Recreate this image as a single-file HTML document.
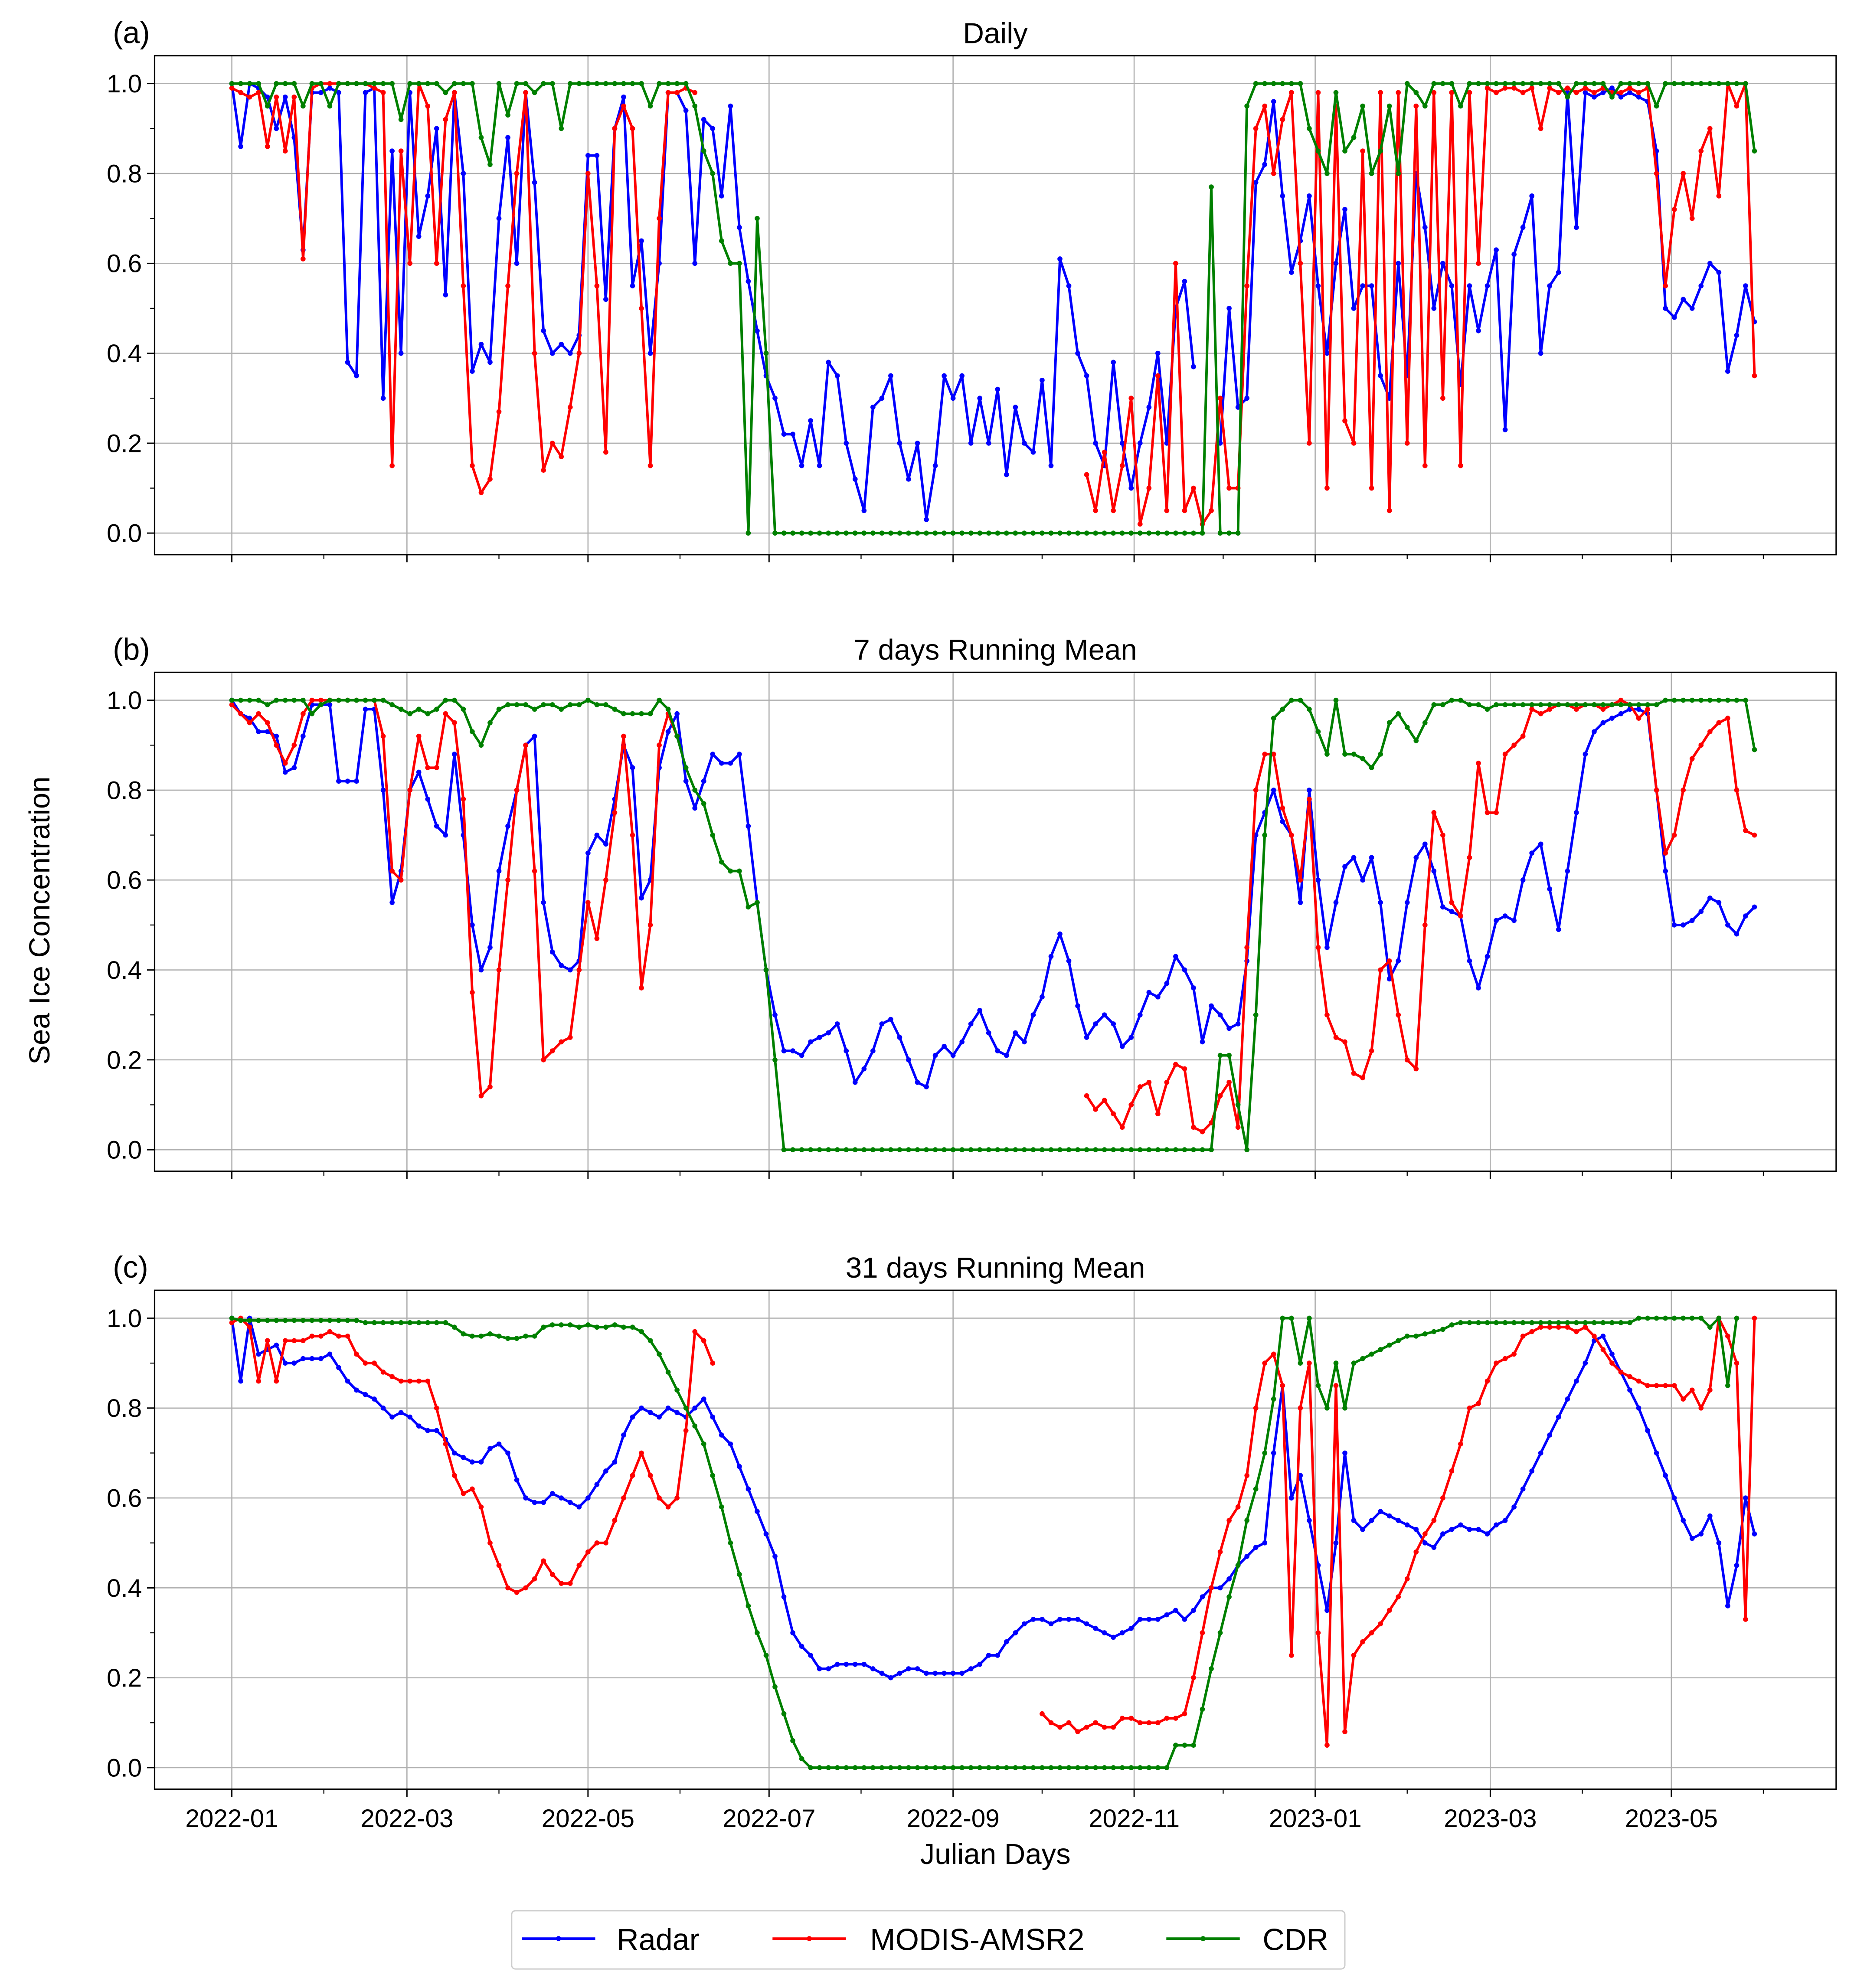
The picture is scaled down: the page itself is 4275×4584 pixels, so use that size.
<!DOCTYPE html>
<html><head><meta charset="utf-8"><style>
html,body{margin:0;padding:0;background:#fff}
svg{display:block}
text{font-family:"Liberation Sans","DejaVu Sans",sans-serif;fill:#000}
</style></head><body>
<svg id="chart" width="4275" height="4584" viewBox="0 0 1464 1570" xmlns="http://www.w3.org/2000/svg">
<rect width="1464" height="1570" fill="#fff"/>
<g id="panels"></g>
<text x="786" y="1472" font-size="23" text-anchor="middle">Julian Days</text>
<text x="0" y="0" font-size="23" text-anchor="middle" transform="translate(39,727) rotate(-90)">Sea Ice Concentration</text>
<g>
<rect x="404" y="1509" width="658" height="46" rx="3" fill="#fff" stroke="#ccc" stroke-width="1"/>
<g><line x1="412" y1="1531" x2="470" y2="1531" stroke="#0000ff" stroke-width="2"/><circle cx="441" cy="1531" r="2" fill="#0000ff"/><text x="487" y="1540" font-size="24">Radar</text></g>
<g><line x1="610" y1="1531" x2="668" y2="1531" stroke="#ff0000" stroke-width="2"/><circle cx="639" cy="1531" r="2" fill="#ff0000"/><text x="687" y="1540" font-size="24">MODIS-AMSR2</text></g>
<g><line x1="921" y1="1531" x2="979" y2="1531" stroke="#008000" stroke-width="2"/><circle cx="950" cy="1531" r="2" fill="#008000"/><text x="997" y="1540" font-size="24">CDR</text></g>
</g>
</svg>
<script>
const N=null;
const dayStep = 3;
const maxPoints = 172;
const xTickLabels = ["2022-01","2022-03","2022-05","2022-07","2022-09","2022-11","2023-01","2023-03","2023-05"];
const xTickDays = [0,59,120,181,243,304,365,424,485];
const yTickLabels = ["0.0","0.2","0.4","0.6","0.8","1.0"];
const panelLabels = ["(a)","(b)","(c)"];
const panelTitles = ["Daily","7 days Running Mean","31 days Running Mean"];

const radarA = [1.0,0.86,1.0,0.99,0.97,0.90,0.97,0.88,0.63,0.98,0.98,0.99,0.98,0.38,0.35,0.98,0.99,0.30,0.85,0.40,0.98,0.66,0.75,0.90,0.53,0.98,0.80,0.36,0.42,0.38,0.70,0.88,0.60,0.98,0.78,0.45,0.40,0.42,0.40,0.44,0.84,0.84,0.52,0.90,0.97,0.55,0.65,0.40,0.60,0.98,0.98,0.94,0.60,0.92,0.90,0.75,0.95,0.68,0.56,0.45,0.35,0.30,0.22,0.22,0.15,0.25,0.15,0.38,0.35,0.20,0.12,0.05,0.28,0.30,0.35,0.20,0.12,0.20,0.03,0.15,0.35,0.30,0.35,0.20,0.30,0.20,0.32,0.13,0.28,0.20,0.18,0.34,0.15,0.61,0.55,0.40,0.35,0.20,0.15,0.38,0.20,0.10,0.20,0.28,0.40,0.20,0.50,0.56,0.37,N,N,0.20,0.50,0.28,0.30,0.78,0.82,0.96,0.75,0.58,0.65,0.75,0.55,0.40,0.60,0.72,0.50,0.55,0.55,0.35,0.30,0.60,0.35,0.80,0.68,0.50,0.60,0.55,0.33,0.55,0.45,0.55,0.63,0.23,0.62,0.68,0.75,0.40,0.55,0.58,0.98,0.68,0.98,0.97,0.98,0.99,0.97,0.98,0.97,0.96,0.85,0.50,0.48,0.52,0.50,0.55,0.60,0.58,0.36,0.44,0.55,0.47,0.48];
const modisA = [0.99,0.98,0.97,0.98,0.86,0.97,0.85,0.97,0.61,0.99,1.0,1.0,1.0,1.0,1.0,1.0,0.99,0.98,0.15,0.85,0.60,1.0,0.95,0.60,0.92,0.98,0.55,0.15,0.09,0.12,0.27,0.55,0.80,0.98,0.40,0.14,0.20,0.17,0.28,0.40,0.80,0.55,0.18,0.90,0.95,0.90,0.50,0.15,0.70,0.98,0.98,0.99,0.98,N,N,N,N,N,N,N,N,N,N,N,N,N,N,N,N,N,N,N,N,N,N,N,N,N,N,N,N,N,N,N,N,N,N,N,N,N,N,N,N,N,N,N,0.13,0.05,0.18,0.05,0.15,0.30,0.02,0.10,0.35,0.05,0.60,0.05,0.10,0.02,0.05,0.30,0.10,0.10,0.55,0.90,0.95,0.80,0.92,0.98,0.60,0.20,0.98,0.10,0.95,0.25,0.20,0.85,0.10,0.98,0.05,0.98,0.20,0.95,0.15,0.98,0.30,0.98,0.15,0.98,0.60,0.99,0.98,0.99,0.99,0.98,0.99,0.90,0.99,0.98,0.99,0.98,0.99,0.98,0.99,0.98,0.98,0.99,0.98,0.99,0.80,0.55,0.72,0.80,0.70,0.85,0.90,0.75,1.0,0.95,1.0,0.35,0.70];
const cdrA = [1,1,1,1,0.95,1,1,1,0.95,1,1,0.95,1,1,1,1,1,1,1,0.92,1,1,1,1,0.98,1,1,1,0.88,0.82,1,0.93,1,1,0.98,1,1,0.90,1,1,1,1,1,1,1,1,1,0.95,1,1,1,1,0.95,0.85,0.80,0.65,0.60,0.60,0.0,0.70,0.40,0,0,0,0,0,0,0,0,0,0,0,0,0,0,0,0,0,0,0,0,0,0,0,0,0,0,0,0,0,0,0,0,0,0,0,0,0,0,0,0,0,0,0,0,0,0,0,0,0,0.77,0,0,0,0.95,1,1,1,1,1,1,0.90,0.85,0.80,0.98,0.85,0.88,0.95,0.80,0.85,0.95,0.80,1,0.98,0.95,1,1,1,0.95,1,1,1,1,1,1,1,1,1,1,1,0.97,1,1,1,1,0.97,1,1,1,1,0.95,1,1,1,1,1,1,1,1,1,1,0.85,1];

const radarB = [1.0,0.97,0.96,0.93,0.93,0.92,0.84,0.85,0.92,0.99,0.99,0.99,0.82,0.82,0.82,0.98,0.98,0.80,0.55,0.62,0.80,0.84,0.78,0.72,0.70,0.88,0.70,0.50,0.40,0.45,0.62,0.72,0.80,0.90,0.92,0.55,0.44,0.41,0.40,0.42,0.66,0.70,0.68,0.78,0.90,0.85,0.56,0.60,0.85,0.93,0.97,0.82,0.76,0.82,0.88,0.86,0.86,0.88,0.72,0.55,0.40,0.30,0.22,0.22,0.21,0.24,0.25,0.26,0.28,0.22,0.15,0.18,0.22,0.28,0.29,0.25,0.20,0.15,0.14,0.21,0.23,0.21,0.24,0.28,0.31,0.26,0.22,0.21,0.26,0.24,0.30,0.34,0.43,0.48,0.42,0.32,0.25,0.28,0.30,0.28,0.23,0.25,0.30,0.35,0.34,0.37,0.43,0.40,0.36,0.24,0.32,0.30,0.27,0.28,0.42,0.70,0.75,0.80,0.73,0.70,0.55,0.80,0.60,0.45,0.55,0.63,0.65,0.60,0.65,0.55,0.38,0.42,0.55,0.65,0.68,0.62,0.54,0.53,0.52,0.42,0.36,0.43,0.51,0.52,0.51,0.60,0.66,0.68,0.58,0.49,0.62,0.75,0.88,0.93,0.95,0.96,0.97,0.98,0.98,0.97,0.80,0.62,0.50,0.50,0.51,0.53,0.56,0.55,0.50,0.48,0.52,0.54,0.48];
const modisB = [0.99,0.97,0.95,0.97,0.95,0.90,0.86,0.90,0.97,1.0,1.0,1.0,1.0,1.0,1.0,1.0,1.0,0.92,0.62,0.60,0.80,0.92,0.85,0.85,0.97,0.95,0.78,0.35,0.12,0.14,0.40,0.60,0.80,0.90,0.62,0.20,0.22,0.24,0.25,0.40,0.55,0.47,0.60,0.75,0.92,0.70,0.36,0.50,0.90,0.97,0.92,N,N,N,N,N,N,N,N,N,N,N,N,N,N,N,N,N,N,N,N,N,N,N,N,N,N,N,N,N,N,N,N,N,N,N,N,N,N,N,N,N,N,N,N,N,0.12,0.09,0.11,0.08,0.05,0.10,0.14,0.15,0.08,0.15,0.19,0.18,0.05,0.04,0.06,0.12,0.15,0.05,0.45,0.80,0.88,0.88,0.76,0.70,0.60,0.78,0.45,0.30,0.25,0.24,0.17,0.16,0.22,0.40,0.42,0.30,0.20,0.18,0.50,0.75,0.70,0.55,0.52,0.65,0.86,0.75,0.75,0.88,0.90,0.92,0.98,0.97,0.98,0.99,0.99,0.98,0.99,0.99,0.98,0.99,1.0,0.99,0.96,0.98,0.80,0.66,0.70,0.80,0.87,0.90,0.93,0.95,0.96,0.80,0.71,0.70];
const cdrB = [1,1,1,1,0.99,1,1,1,1,0.97,0.99,1,1,1,1,1,1,1,0.99,0.98,0.97,0.98,0.97,0.98,1,1,0.98,0.93,0.90,0.95,0.98,0.99,0.99,0.99,0.98,0.99,0.99,0.98,0.99,0.99,1,0.99,0.99,0.98,0.97,0.97,0.97,0.97,1,0.98,0.92,0.85,0.80,0.77,0.70,0.64,0.62,0.62,0.54,0.55,0.40,0.20,0,0,0,0,0,0,0,0,0,0,0,0,0,0,0,0,0,0,0,0,0,0,0,0,0,0,0,0,0,0,0,0,0,0,0,0,0,0,0,0,0,0,0,0,0,0,0,0,0,0.21,0.21,0.10,0,0.30,0.70,0.96,0.98,1,1,0.98,0.93,0.88,1,0.88,0.88,0.87,0.85,0.88,0.95,0.97,0.94,0.91,0.95,0.99,0.99,1,1,0.99,0.99,0.98,0.99,0.99,0.99,0.99,0.99,0.99,0.99,0.99,0.99,0.99,0.99,0.99,0.99,0.99,0.99,0.99,0.99,0.99,0.99,1,1,1,1,1,1,1,1,1,1,0.89,1];

const radarC = [1.0,0.86,1.0,0.92,0.93,0.94,0.90,0.90,0.91,0.91,0.91,0.92,0.89,0.86,0.84,0.83,0.82,0.80,0.78,0.79,0.78,0.76,0.75,0.75,0.73,0.70,0.69,0.68,0.68,0.71,0.72,0.70,0.64,0.60,0.59,0.59,0.61,0.60,0.59,0.58,0.60,0.63,0.66,0.68,0.74,0.78,0.80,0.79,0.78,0.80,0.79,0.78,0.80,0.82,0.78,0.74,0.72,0.67,0.62,0.57,0.52,0.47,0.38,0.30,0.27,0.25,0.22,0.22,0.23,0.23,0.23,0.23,0.22,0.21,0.20,0.21,0.22,0.22,0.21,0.21,0.21,0.21,0.21,0.22,0.23,0.25,0.25,0.28,0.30,0.32,0.33,0.33,0.32,0.33,0.33,0.33,0.32,0.31,0.30,0.29,0.30,0.31,0.33,0.33,0.33,0.34,0.35,0.33,0.35,0.38,0.40,0.40,0.42,0.45,0.47,0.49,0.50,0.70,0.85,0.60,0.65,0.55,0.45,0.35,0.50,0.70,0.55,0.53,0.55,0.57,0.56,0.55,0.54,0.53,0.50,0.49,0.52,0.53,0.54,0.53,0.53,0.52,0.54,0.55,0.58,0.62,0.66,0.70,0.74,0.78,0.82,0.86,0.90,0.95,0.96,0.92,0.88,0.84,0.80,0.75,0.70,0.65,0.60,0.55,0.51,0.52,0.56,0.50,0.36,0.45,0.60,0.52,0.48];
const modisC = [0.99,1.0,0.98,0.86,0.95,0.86,0.95,0.95,0.95,0.96,0.96,0.97,0.96,0.96,0.92,0.90,0.90,0.88,0.87,0.86,0.86,0.86,0.86,0.80,0.72,0.65,0.61,0.62,0.58,0.50,0.45,0.40,0.39,0.40,0.42,0.46,0.43,0.41,0.41,0.45,0.48,0.50,0.50,0.55,0.60,0.65,0.70,0.65,0.60,0.58,0.60,0.75,0.97,0.95,0.90,N,N,N,N,N,N,N,N,N,N,N,N,N,N,N,N,N,N,N,N,N,N,N,N,N,N,N,N,N,N,N,N,N,N,N,N,0.12,0.10,0.09,0.10,0.08,0.09,0.10,0.09,0.09,0.11,0.11,0.10,0.10,0.10,0.11,0.11,0.12,0.20,0.30,0.40,0.48,0.55,0.58,0.65,0.80,0.90,0.92,0.85,0.25,0.80,0.90,0.30,0.05,0.85,0.08,0.25,0.28,0.30,0.32,0.35,0.38,0.42,0.48,0.52,0.55,0.60,0.66,0.72,0.80,0.81,0.86,0.90,0.91,0.92,0.96,0.97,0.98,0.98,0.98,0.98,0.97,0.98,0.96,0.93,0.90,0.88,0.87,0.86,0.85,0.85,0.85,0.85,0.82,0.84,0.80,0.84,1.0,0.96,0.90,0.33,1.0,0.70];
const cdrC = [1.0,0.995,0.995,0.995,0.995,0.995,0.995,0.995,0.995,0.995,0.995,0.995,0.995,0.995,0.995,0.99,0.99,0.99,0.99,0.99,0.99,0.99,0.99,0.99,0.99,0.98,0.965,0.96,0.96,0.965,0.96,0.955,0.955,0.96,0.96,0.98,0.985,0.985,0.985,0.98,0.985,0.98,0.98,0.985,0.98,0.98,0.97,0.95,0.92,0.88,0.84,0.80,0.76,0.72,0.65,0.58,0.50,0.43,0.36,0.30,0.25,0.18,0.12,0.06,0.02,0,0,0,0,0,0,0,0,0,0,0,0,0,0,0,0,0,0,0,0,0,0,0,0,0,0,0,0,0,0,0,0,0,0,0,0,0,0,0,0,0,0.05,0.05,0.05,0.13,0.22,0.30,0.38,0.45,0.55,0.62,0.70,0.82,1.0,1.0,0.90,1.0,0.85,0.80,0.90,0.80,0.90,0.91,0.92,0.93,0.94,0.95,0.96,0.96,0.965,0.97,0.975,0.985,0.99,0.99,0.99,0.99,0.99,0.99,0.99,0.99,0.99,0.99,0.99,0.99,0.99,0.99,0.99,0.99,0.99,0.99,0.99,0.99,1,1,1,1,1,1,1,1,0.98,1,0.85,1];

const panelSeries = [[radarA,modisA,cdrA],[radarB,modisB,cdrB],[radarC,modisC,cdrC]];
const seriesNames = ["radar","modis-amsr2","cdr"];
const seriesColors = ["#0000ff","#ff0000","#008000"];

const NS="http://www.w3.org/2000/svg";
const X0=122, X1=1450;
const panelTop=[44,531,1019], panelH=394;
const xOf = d => 183 + d*2.344;
function yOf(v,p){ const y1=panelTop[p]+22, y0=panelTop[p]+377; return y0-(y0-y1)*v; }
function mk(tag,attrs,parent){const e=document.createElementNS(NS,tag);for(const k in attrs)e.setAttribute(k,attrs[k]);parent.appendChild(e);return e;}
const root=document.getElementById('panels');

for(let p=0;p<3;p++){
  const g=mk('g',{},root);
  
  
  const top=panelTop[p], bot=top+panelH;
  for(let i=0;i<xTickDays.length;i++){
    const x=xOf(xTickDays[i]);
    const gl=mk('line',{x1:x,y1:top,x2:x,y2:bot,stroke:'#b0b0b0','stroke-width':0.9},g);
    
    
    mk('line',{x1:x,y1:bot,x2:x,y2:bot+6,stroke:'#000','stroke-width':1},g);
    if(p===2){
      const t=mk('text',{x:x,y:bot+30,'font-size':20,'text-anchor':'middle'},g);
      t.textContent=xTickLabels[i];
      
      
    }
  }
  const monthDays=[-31,0,31,59,90,120,151,181,212,243,273,304,334,365,396,424,455,485,516,546];
  for(const d of monthDays){
    const x=xOf(d); if(x<X0||x>X1) continue;
    mk('line',{x1:x,y1:bot,x2:x,y2:bot+3.5,stroke:'#000','stroke-width':0.8},g);
  }
  for(let i=0;i<yTickLabels.length;i++){
    const v=i*0.2, y=yOf(v,p);
    const gl=mk('line',{x1:X0,y1:y,x2:X1,y2:y,stroke:'#b0b0b0','stroke-width':0.9},g);
    
    
    mk('line',{x1:X0-6,y1:y,x2:X0,y2:y,stroke:'#000','stroke-width':1},g);
    const t=mk('text',{x:X0-10,y:y+7,'font-size':20,'text-anchor':'end'},g);
    t.textContent=yTickLabels[i];
    
    
  }
  for(let v=0.1;v<1.05;v+=0.2){const y=yOf(v,p);mk('line',{x1:X0-3.5,y1:y,x2:X0,y2:y,stroke:'#000','stroke-width':0.8},g);}
  panelSeries[p].forEach((allVals,s)=>{
    const vals=allVals.slice(0,maxPoints);
    const sg=mk('g',{},g);
    
    
    let d='', pen=false;
    vals.forEach((v,i)=>{
      if(v===null){pen=false;return;}
      const x=xOf(i*dayStep), y=yOf(v,p);
      d+=(pen?'L':'M')+x.toFixed(1)+' '+y.toFixed(1);
      pen=true;
    });
    mk('path',{d:d,fill:'none',stroke:seriesColors[s],'stroke-width':2,'stroke-linejoin':'round'},sg);
    vals.forEach((v,i)=>{
      if(v===null) return;
      const c=mk('circle',{cx:xOf(i*dayStep),cy:yOf(v,p),r:2,fill:seriesColors[s]},sg);
      
      
    });
  });
  const fr=mk('rect',{x:X0,y:top,width:X1-X0,height:panelH,fill:'none',stroke:'#000','stroke-width':1.1},g);
  
  
  const lab=mk('text',{x:89,y:top-10,'font-size':24},g);
  lab.textContent=panelLabels[p];
  
  
  const tt=mk('text',{x:786,y:top-10,'font-size':23,'text-anchor':'middle'},g);
  tt.textContent=panelTitles[p];
  
  
}
</script>
</body></html>
